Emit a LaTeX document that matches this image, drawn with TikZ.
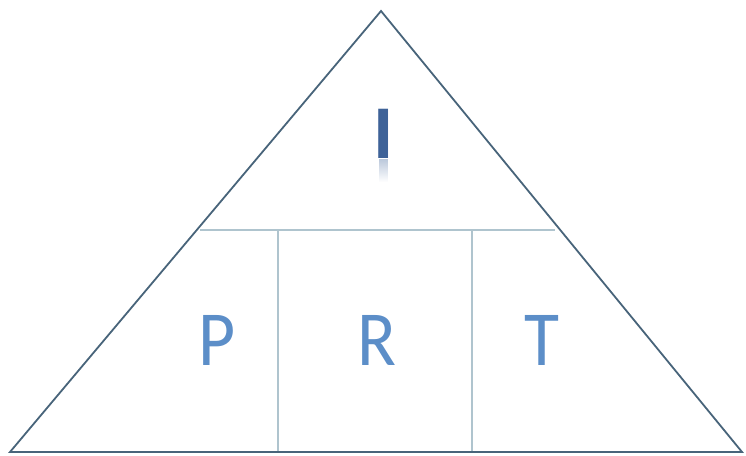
\documentclass[tikz,border=0pt]{standalone}
\usepackage{fontspec}
\setmainfont{Carlito}
\usetikzlibrary{fadings}
\definecolor{edgecol}{RGB}{72,100,122}
\definecolor{gridcol}{RGB}{175,196,206}
\definecolor{lettercol}{RGB}{92,142,200}
\definecolor{icol}{RGB}{62,98,152}
\tikzset{
  outline/.style={draw=edgecol, line width=1.8pt, line join=miter},
  divider/.style={draw=gridcol, line width=1.2pt},
  letter/.style={text=lettercol, font=\fontsize{78}{78}\selectfont, inner sep=0pt, anchor=base, xscale=0.92}
}
\begin{document}
\begin{tikzpicture}[x=1pt,y=-1pt]
\useasboundingbox (0,0) rectangle (746,455);
\coordinate (apex) at (381,11);
\coordinate (bl) at (10,452);
\coordinate (br) at (742,452);
\coordinate (hl) at (200,230);
\coordinate (hr) at (555,230);
\coordinate (v1t) at (278,230);
\coordinate (v1b) at (278,452);
\coordinate (v2t) at (472,230);
\coordinate (v2b) at (472,452);
\draw[divider] (hl) -- (hr);
\draw[divider] (v1t) -- (v1b);
\draw[divider] (v2t) -- (v2b);
\draw[outline] (bl) -- (apex) -- (br) -- cycle;
% reflection of I
\fill[icol!35, path fading=south] (379,159) rectangle (388,182);
\node[text=icol, font=\bfseries\fontsize{76}{76}\selectfont, inner sep=0pt, anchor=base] (i) at (383.5,158) {I};
\node[letter] (p) at (217,365) {P};
\node[letter] (r) at (377,365) {R};
\node[letter] (t) at (542,365) {T};
\end{tikzpicture}
\end{document}
